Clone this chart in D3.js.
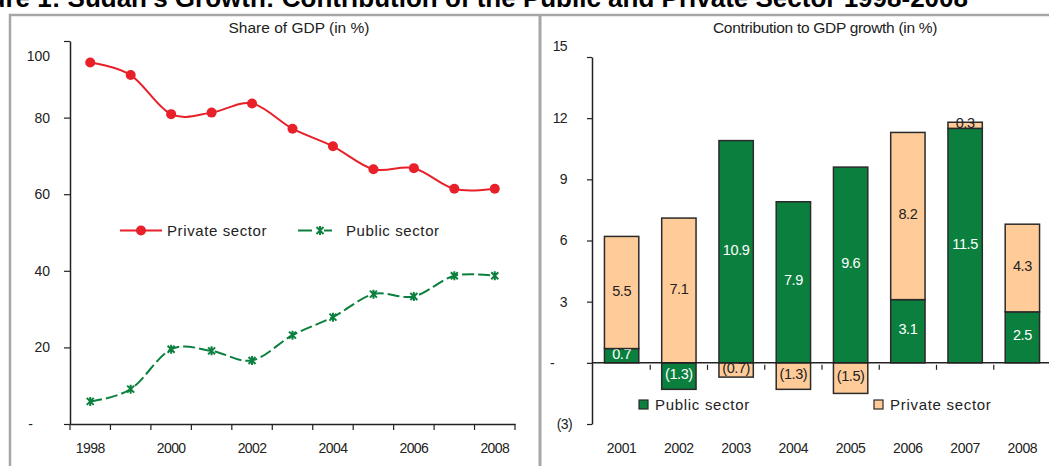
<!DOCTYPE html>
<html>
<head>
<meta charset="utf-8">
<script src="https://cdn.jsdelivr.net/npm/d3@7"></script>
<style>
  body { margin: 0; background: #fff; }
  svg { display: block; font-family: "Liberation Sans", Arial, sans-serif; }
</style>
</head>
<body>
<div id="chart"></div>
<script>
// left panel: share of GDP
const shareYears = [1998, 1999, 2000, 2001, 2002, 2003, 2004, 2005, 2006, 2007, 2008];
const privateShare = [94.4, 91.1, 80.9, 81.3, 83.7, 77.1, 72.5, 66.5, 66.8, 61.4, 61.4];
const publicShare  = [5.9, 9.1, 19.5, 19.1, 16.6, 23.2, 27.9, 33.9, 33.3, 38.7, 38.7];
const shareTicks = [0, 20, 40, 60, 80, 100];

// right panel: contribution to growth
const growthYears = [2001, 2002, 2003, 2004, 2005, 2006, 2007, 2008];
const publicContrib  = [0.7, -1.3, 10.9, 7.9, 9.6, 3.1, 11.5, 2.5];
const privateContrib = [5.5, 7.1, -0.7, -1.3, -1.5, 8.2, 0.3, 4.3];
const growthTicks = [-3, 0, 3, 6, 9, 12, 15];

const W = 1049, H = 466;
const RED = "#e8202a", GREEN = "#0b803e", PEACH = "#ffcc99", INK = "#222";

const svg = d3.select("#chart").append("svg").attr("width", W).attr("height", H);
svg.append("rect").attr("width", W).attr("height", H).attr("fill", "#fff");

// header, cut off at the top of the picture
svg.append("text")
  .attr("x", 968).attr("y", 7).attr("text-anchor", "end")
  .attr("font-size", "26px").attr("font-weight", "bold").attr("fill", "#000")
  .text("Figure 1: Sudan's Growth: Contribution of the Public and Private Sector 1998-2008");

// panel frames
const frame = svg.append("g").attr("fill", "none").attr("stroke", "#a6a6a6").attr("stroke-width", 2.5);
frame.append("path").attr("d", `M10,${H + 5}V15H${W + 5}`);
frame.append("line").attr("x1", 540).attr("x2", 540).attr("y1", 15).attr("y2", H + 5).attr("stroke-width", 3);

// ---------- left chart ----------
const xL = d3.scaleBand().domain(shareYears).range([70, 515]);
const yL = d3.scaleLinear().domain([0, 100]).range([424, 41]);
const gL = svg.append("g");

gL.append("text").attr("x", 299).attr("y", 33).attr("text-anchor", "middle")
  .attr("font-size", "15.5px").attr("fill", INK).text("Share of GDP (in %)");

const axL = gL.append("g").attr("transform", "translate(70,0)")
  .call(d3.axisLeft(yL).tickValues(shareTicks).tickSize(6).tickSizeOuter(0).tickPadding(14)
    .tickFormat(d => d === 0 ? "-" : d));
axL.select(".domain").attr("stroke", INK).attr("stroke-width", 1.5);
axL.selectAll(".tick line").attr("stroke", INK).attr("stroke-width", 1.2);
axL.selectAll("text").attr("font-size", "14px").attr("fill", INK).attr("font-family", null)
  .attr("dx", d => d === 0 ? -17 : 0)
  .attr("dy", d => d === 100 ? "1.4em" : "0.32em");

const axLx = gL.append("g").attr("transform", "translate(0,424)")
  .call(d3.axisBottom(xL).tickSize(0).tickPadding(19).tickFormat(d => d % 2 === 0 ? d : ""));
axLx.select(".domain").attr("stroke", INK).attr("stroke-width", 1.5);
axLx.selectAll("text").attr("font-size", "14px").attr("fill", INK).attr("font-family", null)
  .attr("letter-spacing", "-0.6px");
gL.append("g").selectAll("line").data(shareYears.map(d => xL(d)).concat(xL.range()[1])).join("line")
  .attr("x1", d => d).attr("x2", d => d).attr("y1", 424).attr("y2", 430)
  .attr("stroke", INK).attr("stroke-width", 1.2);

const lineL = (vals) => d3.line()
  .x((d, i) => xL(shareYears[i]) + xL.bandwidth() / 2)
  .y(d => yL(d))
  .curve(d3.curveCardinal.tension(0))(vals);

gL.append("path").attr("d", lineL(privateShare)).attr("fill", "none")
  .attr("stroke", RED).attr("stroke-width", 2);
gL.append("path").attr("d", lineL(publicShare)).attr("fill", "none")
  .attr("stroke", GREEN).attr("stroke-width", 2).attr("stroke-dasharray", "12 4");

gL.selectAll(".dot").data(privateShare).join("circle").attr("class", "dot")
  .attr("cx", (d, i) => xL(shareYears[i]) + xL.bandwidth() / 2).attr("cy", d => yL(d))
  .attr("r", 5).attr("fill", RED);

// asterisk-like marker: an X crossed by a vertical stroke
const starPath = "M-3.5,-3.5L3.5,3.5M-3.5,3.5L3.5,-3.5M0,-4.5V4.5";
gL.selectAll(".star").data(publicShare).join("path").attr("class", "star")
  .attr("transform", (d, i) => `translate(${xL(shareYears[i]) + xL.bandwidth() / 2},${yL(d)})`)
  .attr("d", starPath).attr("stroke", GREEN).attr("stroke-width", 2).attr("fill", "none");

// legend
const legL = gL.append("g").attr("font-size", "15px").attr("fill", INK).attr("letter-spacing", "0.6px");
legL.append("line").attr("x1", 120).attr("x2", 162).attr("y1", 230.5).attr("y2", 230.5)
  .attr("stroke", RED).attr("stroke-width", 2);
legL.append("circle").attr("cx", 141).attr("cy", 230.5).attr("r", 5).attr("fill", RED);
legL.append("text").attr("x", 167).attr("y", 236).text("Private sector");
legL.append("line").attr("x1", 298).attr("x2", 332).attr("y1", 230.5).attr("y2", 230.5)
  .attr("stroke", GREEN).attr("stroke-width", 2).attr("stroke-dasharray", "14 12");
legL.append("path").attr("transform", "translate(320,230.5)").attr("d", starPath)
  .attr("stroke", GREEN).attr("stroke-width", 2).attr("fill", "none");
legL.append("text").attr("x", 346).attr("y", 236).text("Public sector");

// ---------- right chart ----------
const xR = d3.scaleBand().domain(growthYears).range([593, 1051]).paddingInner(0.4).paddingOuter(0.2);
const yR = d3.scaleLinear().domain([-3, 15]).range([424, 57]);
const gR = svg.append("g");

gR.append("text").attr("x", 825).attr("y", 33).attr("text-anchor", "middle")
  .attr("font-size", "15.5px").attr("fill", INK).attr("letter-spacing", "-0.3px")
  .text("Contribution to GDP growth (in %)");

const rows = growthYears.map((y, i) => ({ year: y, public: publicContrib[i], private: privateContrib[i] }));
const stacked = d3.stack().keys(["public", "private"]).offset(d3.stackOffsetDiverging)(rows);
const fills = { public: GREEN, private: PEACH };
const labelFill = { public: "#fff", private: INK };
const fmt = v => v < 0 ? `(${Math.abs(v).toFixed(1)})` : v.toFixed(1);

const layers = gR.selectAll(".layer").data(stacked).join("g").attr("class", "layer");
layers.selectAll("rect").data(d => d.map(s => Object.assign(s, { key: d.key }))).join("rect")
  .attr("x", d => xR(d.data.year)).attr("width", xR.bandwidth())
  .attr("y", d => yR(d[1])).attr("height", d => yR(d[0]) - yR(d[1]))
  .attr("fill", d => fills[d.key]).attr("stroke", "#2a2a2a").attr("stroke-width", 1.5);
layers.selectAll("text").data(d => d).join("text")
  .attr("x", d => xR(d.data.year) + xR.bandwidth() / 2)
  .attr("y", d => (yR(d[0]) + yR(d[1])) / 2 - 2).attr("dy", "0.35em")
  .attr("text-anchor", "middle").attr("font-size", "14.5px").attr("letter-spacing", "-0.4px")
  .attr("fill", d => labelFill[d.key]).text(d => fmt(d.data[d.key]));

const axR = gR.append("g").attr("transform", "translate(592,0)")
  .call(d3.axisLeft(yR).tickValues(growthTicks).tickSize(5).tickSizeOuter(0).tickPadding(15)
    .tickFormat(d => d === 0 ? "-" : d < 0 ? `(${-d})` : d));
axR.select(".domain").attr("stroke", INK).attr("stroke-width", 1.5);
axR.selectAll(".tick line").attr("stroke", INK).attr("stroke-width", 1.2);
axR.selectAll("text").attr("font-size", "14px").attr("fill", INK).attr("font-family", null)
  .attr("letter-spacing", "-0.6px")
  .attr("dx", d => d === 0 ? -18 : d < 0 ? 0 : -5)
  .attr("dy", d => d === 15 ? "-0.5em" : "0.32em");

// zero line and category ticks
const y0 = yR(0);
gR.append("line").attr("x1", 592).attr("x2", W).attr("y1", y0).attr("y2", y0)
  .attr("stroke", INK).attr("stroke-width", 1.5);
gR.append("g").selectAll("line").data(growthYears.slice(1)).join("line")
  .attr("x1", d => xR(d) - xR.step() * 0.2).attr("x2", d => xR(d) - xR.step() * 0.2)
  .attr("y1", y0 + 2).attr("y2", y0 + 7).attr("stroke", INK).attr("stroke-width", 1.2);

const axRx = gR.append("g").attr("transform", "translate(0,424)")
  .call(d3.axisBottom(xR).tickSize(0).tickPadding(19));
axRx.select(".domain").remove();
axRx.selectAll("text").attr("font-size", "14px").attr("fill", INK).attr("font-family", null)
  .attr("letter-spacing", "-0.3px");

// legend
const legR = gR.append("g").attr("font-size", "15px").attr("fill", INK).attr("letter-spacing", "0.7px");
[["Public sector", GREEN, 639], ["Private sector", PEACH, 874]].forEach(([name, col, x]) => {
  legR.append("rect").attr("x", x).attr("y", 400).attr("width", 9).attr("height", 9)
    .attr("fill", col).attr("stroke", "#2a2a2a").attr("stroke-width", 1.2);
  legR.append("text").attr("x", x + 16).attr("y", 410).text(name);
});
</script>
</body>
</html>
